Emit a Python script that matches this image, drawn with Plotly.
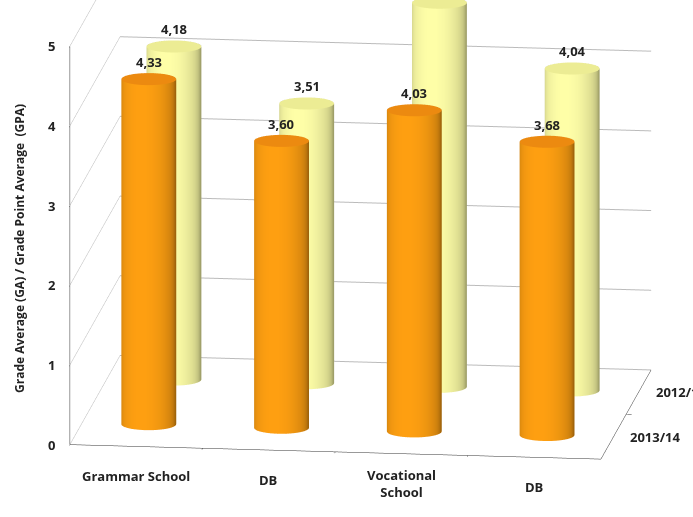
import numpy as np
import plotly.graph_objects as go

categories = ["Grammar School", "DB", "Vocational<br>School", "DB"]
series_names = ["2013/14", "2012/13"]
values_1314 = [4.33, 3.60, 4.03, 3.68]
values_1213 = [4.18, 3.51, 4.82, 4.04]
z_ticks = [0, 1, 2, 3, 4, 5]

side_rgb = {"2013/14": (255, 160, 18), "2012/13": (255, 255, 168)}
top_rgb = {"2013/14": (236, 138, 16), "2012/13": (236, 236, 148)}

# scene geometry
AX, AY, AZ = 2.07, 1.58, 1.58
XR = (-0.5, 3.5)
YR = (-0.5, 1.5)
ZR = (0, 5)
RX = 0.205
RY = RX * (AX / (XR[1] - XR[0])) / (AY / (YR[1] - YR[0]))


def rgbstr(c, f=1.0):
    return "rgb(%d,%d,%d)" % tuple(int(max(0, min(255, v * f))) for v in c)


def cylinder(xc, yc, h, name, n=60):
    t = np.linspace(0, 2 * np.pi, n, endpoint=False)
    cx, cy = xc + RX * np.cos(t), yc + RY * np.sin(t)
    xs = np.concatenate([cx, cx, cx, cx, [xc, xc]])
    ys = np.concatenate([cy, cy, cy, cy, [yc, yc]])
    zs = np.concatenate([np.zeros(n), np.full(n, h), np.full(n, h), np.zeros(n), [h, 0]])
    shade = 0.62 + 0.38 * np.clip(np.cos(t - np.radians(-100)), 0, 1) ** 0.6
    side = [rgbstr(side_rgb[name], s) for s in shade]
    top = [rgbstr(top_rgb[name])] * n
    vc = side + side + top + top + [rgbstr(top_rgb[name])] * 2
    ct, cb = 4 * n, 4 * n + 1
    I, J, K = [], [], []
    for k in range(n):
        a, b = k, (k + 1) % n
        I += [a, b]
        J += [b, b + n]
        K += [a + n, a + n]
        I.append(ct); J.append(2 * n + a); K.append(2 * n + b)
        I.append(cb); J.append(3 * n + b); K.append(3 * n + a)
    return go.Mesh3d(
        x=xs, y=ys, z=zs, i=I, j=J, k=K, vertexcolor=vc, flatshading=False,
        lighting=dict(ambient=1.0, diffuse=0.0, specular=0.0, roughness=1.0, fresnel=0.0),
        hoverinfo="skip", showscale=False,
    )


fig = go.Figure()
rows = [(1, values_1213, "2012/13"), (0, values_1314, "2013/14")]
for yrow, vals, name in rows:
    for i, v in enumerate(vals):
        fig.add_trace(cylinder(i, yrow, v, name))

FAM = "Open Sans, sans-serif"
font = dict(family=FAM, size=13, color="#222222", weight=700)
ann = []
for yrow, vals, name in rows:
    for i, v in enumerate(vals):
        ann.append(dict(x=i, y=yrow, z=v, text="<b>%s</b>" % ("%.2f" % v).replace(".", ","),
                        showarrow=False, yshift=17, font=font))
for i, c in enumerate(categories):
    ann.append(dict(x=i, y=YR[0], z=0, text="<b>%s</b>" % c, showarrow=False,
                    yshift=-30, font=font))
for v in z_ticks:
    ann.append(dict(x=XR[0], y=YR[0], z=v, text="<b>%d</b>" % v, showarrow=False,
                    xshift=-18, font=font))
for yrow, name in [(0, "2013/14"), (1, "2012/13")]:
    ann.append(dict(x=XR[1], y=yrow, z=0, text="<b>%s</b>" % name, showarrow=False,
                    xshift=42, font=font))

axis_common = dict(showbackground=False, showspikes=False, showticklabels=False,
                   title=dict(text=""), zeroline=False, ticks="outside", ticklen=6,
                   tickcolor="#333333", showline=True, linecolor="#333333")
fig.update_layout(
    width=693, height=517,
    margin=dict(l=0, r=0, t=0, b=0),
    paper_bgcolor="white",
    showlegend=False,
    scene=dict(
        domain=dict(x=[0.04, 1], y=[0, 1]),
        xaxis=dict(range=list(XR), tickvals=[0.5, 1.5, 2.5], showgrid=False, **axis_common),
        yaxis=dict(range=list(YR), tickvals=[0.5], showgrid=False, **axis_common),
        zaxis=dict(range=list(ZR), tickvals=z_ticks, showgrid=True, gridcolor="#BBBBBB",
                   **axis_common),
        aspectmode="manual",
        aspectratio=dict(x=AX, y=AY, z=AZ),
        camera=dict(eye=dict(x=0.30, y=-2.42, z=0.35), center=dict(x=0.0, y=0, z=-0.2),
                    up=dict(x=0, y=0, z=1), projection=dict(type="orthographic")),
        annotations=ann,
    ),
    annotations=[dict(x=0.012, y=0.52, xref="paper", yref="paper", textangle=-90,
                      text="<b>Grade Average (GA) / Grade Point Average  (GPA)</b>",
                      showarrow=False, font=dict(family=FAM, size=12, color="#222222",
                                                 weight=700))],
)
fig.write_html("out.html")
